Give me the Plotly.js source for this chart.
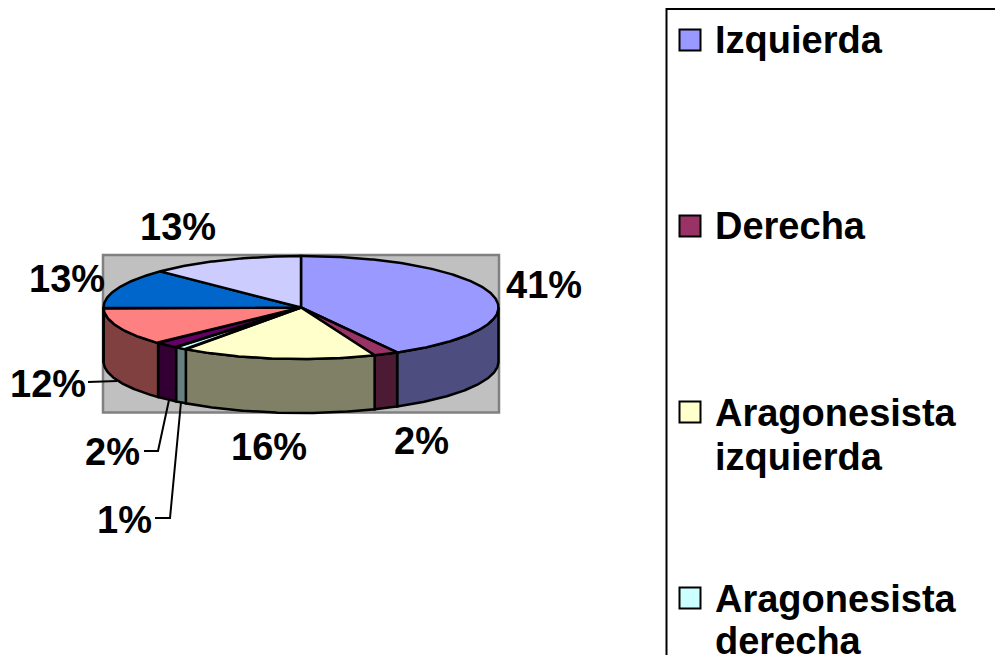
<!DOCTYPE html>
<html><head><meta charset="utf-8">
<script src="https://cdn.plot.ly/plotly-3.0.1.min.js"></script>
<style>html,body{margin:0;padding:0;background:#fff;overflow:hidden}#c{width:995px;height:655px}</style>
</head><body><div id="c"></div>
<script>
// Data (shares in %, clockwise from 12 o'clock)
const values = [41, 2, 16, 1, 2, 12, 13, 13];
const topColors  = ['#9999FF','#993366','#FFFFCC','#CCFFFF','#660066','#FF8080','#0066CC','#CCCCFF'];
const sideColors = ['#4D4D80','#4D1A33','#808066','#668080','#330033','#804040','#003366','#666680'];
const legendLabels = [['Izquierda'],['Derecha'],['Aragonesista','izquierda'],['Aragonesista','derecha']];

// Layout constants (axes run in page pixels)
const W = 995, H = 655;
const pie = {cx:301, cy:307.5, rx:197.5, ry:51.5, depth:54, warp:3.4};
const wall = {x0:103, x1:499, y0:255, y1:412.5};
const labelPos = [[178,227],[67,279],[544,285],[48,384],[112,452],[124,520],[269,447],[421,441]];
const labelOrder = [7,6,0,5,4,3,2,1];
const legendSwatchX = 690, legendTextX = 712.5;
const legendSwatchY = [40, 226, 412, 598];
const legendTextY = [[40],[226],[413,457],[599,641]];
const font = {family:'"Liberation Sans", Arial, sans-serif', size:38, color:'#000', weight:700};

const total = values.reduce((a,b)=>a+b,0);
let run = 0;
const edges = [0].concat(values.map(v => (run += v) / total * 360));
// Slight foreshortening of the tilted 3-D view
const view = a => a + pie.warp * Math.sin(a * Math.PI / 360);
const px = a => pie.cx + pie.rx * Math.sin(a * Math.PI / 180);
const py = (a, dz=0) => pie.cy - pie.ry * Math.cos(a * Math.PI / 180) + dz;
function arc(a0, a1) {
  const n = Math.max(2, Math.ceil((a1 - a0) * 2)), out = [];
  for (let i = 0; i <= n; i++) out.push(a0 + (a1 - a0) * i / n);
  return out;
}
const traces = [];
const poly = (x, y, fillcolor) => traces.push({type:'scatter', mode:'lines', x, y, fill:'toself', fillcolor,
  line:{color:'#000', width:2.5}, hoverinfo:'skip', showlegend:false});

// Side walls (only the front half of the pie is visible)
values.forEach((v, i) => {
  const a0 = Math.max(view(edges[i]), 90), a1 = Math.min(view(edges[i+1]), 270);
  if (a1 <= a0) return;
  const as = arc(a0, a1), rev = as.slice().reverse();
  poly(as.map(px).concat(rev.map(px), [px(a0)]),
       as.map(a => py(a)).concat(rev.map(a => py(a, pie.depth)), [py(a0)]), sideColors[i]);
});
// Top faces
values.forEach((v, i) => {
  const as = arc(view(edges[i]), view(edges[i+1]));
  poly([pie.cx].concat(as.map(px), [pie.cx]),
       [pie.cy].concat(as.map(a => py(a)), [pie.cy]), topColors[i]);
});
// Legend swatches
legendLabels.forEach((l, i) => traces.push({type:'scatter', mode:'markers', x:[legendSwatchX], y:[legendSwatchY[i]],
  marker:{symbol:'square', size:21, color:topColors[i], line:{color:'#000', width:2}}, hoverinfo:'skip', showlegend:false}));

const annotations = [];
labelOrder.forEach((s, i) => annotations.push({x:labelPos[i][0], y:labelPos[i][1], text:Math.round(values[s]/total*100)+'%',
  showarrow:false, xanchor:'center', yanchor:'middle', font}));
legendLabels.forEach((lines, i) => lines.forEach((t, j) => annotations.push({x:legendTextX, y:legendTextY[i][j], text:t,
  showarrow:false, xanchor:'left', yanchor:'middle', font})));

const shapes = [
  {type:'rect', layer:'below', x0:wall.x0, x1:wall.x1, y0:wall.y0, y1:wall.y1, fillcolor:'#C0C0C0', line:{color:'#808080', width:2.5}},
  {type:'path', path:'M 88 382 L 117 381', line:{color:'#000', width:2}},
  {type:'path', path:'M 144 451 L 158 451 L 169 400', line:{color:'#000', width:2}},
  {type:'path', path:'M 155 518 L 170 518 L 181 402', line:{color:'#000', width:2}},
  {type:'rect', x0:666.5, x1:1010, y0:9, y1:700, line:{color:'#000', width:2}}
];

Plotly.newPlot('c', traces, {
  width:W, height:H, margin:{l:0,r:0,t:0,b:0}, paper_bgcolor:'#fff', plot_bgcolor:'#fff', showlegend:false,
  xaxis:{range:[0,W], visible:false, fixedrange:true},
  yaxis:{range:[H,0], visible:false, fixedrange:true},
  shapes, annotations, hovermode:false
}, {displayModeBar:false, staticPlot:true});
</script></body></html>
